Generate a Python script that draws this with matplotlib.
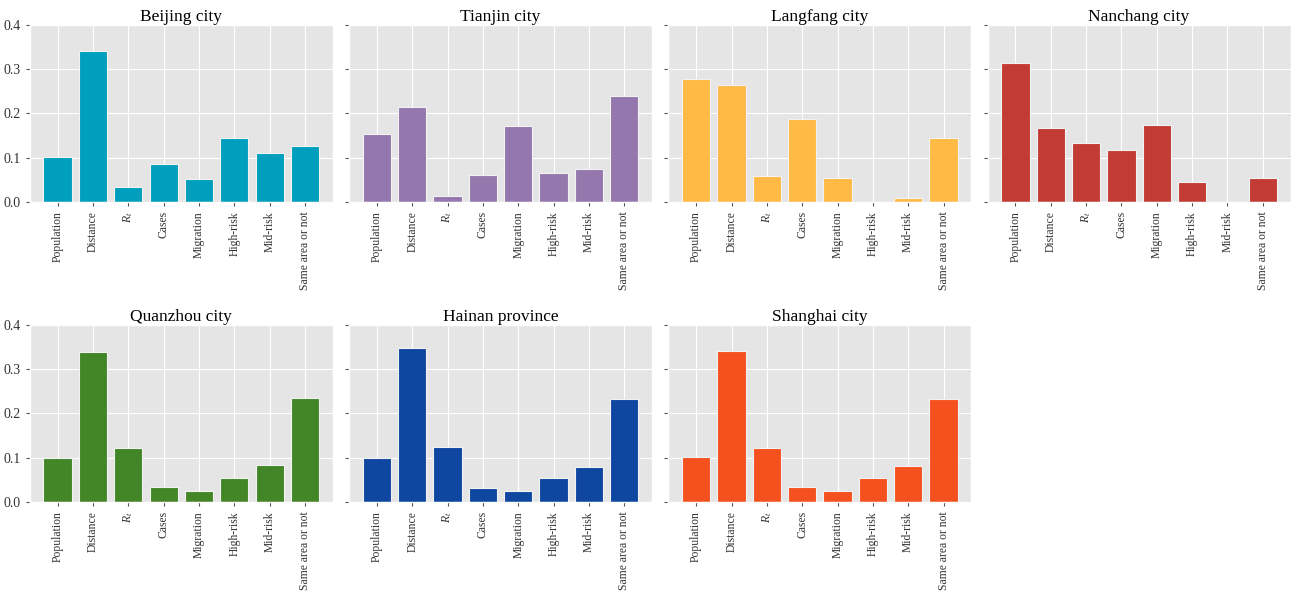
import matplotlib
matplotlib.use('Agg')
import matplotlib.pyplot as plt
import numpy as np

plt.style.use('ggplot')
plt.rcParams['font.family'] = ['Liberation Serif', 'DejaVu Serif']
plt.rcParams['mathtext.fontset'] = 'custom'
plt.rcParams['mathtext.rm'] = 'Liberation Serif'
plt.rcParams['mathtext.it'] = 'Liberation Serif:italic'

factors = ['Population', 'Distance', '$R_t$', 'Cases', 'Migration',
           'High-risk', 'Mid-risk', 'Same area or not']

regions = ['Beijing city', 'Tianjin city', 'Langfang city', 'Nanchang city',
           'Quanzhou city', 'Hainan province', 'Shanghai city']

beijing = [0.102, 0.342, 0.033, 0.086, 0.051, 0.145, 0.111, 0.127]
tianjin = [0.154, 0.214, 0.014, 0.060, 0.172, 0.066, 0.075, 0.240]
langfang = [0.278, 0.264, 0.059, 0.188, 0.055, 0.0, 0.009, 0.145]
nanchang = [0.313, 0.166, 0.133, 0.117, 0.174, 0.044, 0.0, 0.053]
quanzhou = [0.100, 0.338, 0.123, 0.033, 0.024, 0.055, 0.084, 0.234]
hainan = [0.099, 0.347, 0.124, 0.032, 0.024, 0.054, 0.079, 0.232]
shanghai = [0.101, 0.341, 0.121, 0.033, 0.025, 0.055, 0.081, 0.233]

colors = ['#009FBD', '#9478AD', '#FFBA45', '#C23C35',
          '#438628', '#0F46A0', '#F4511E']

weights = [beijing, tianjin, langfang, nanchang, quanzhou, hainan, shanghai]

fig, axes = plt.subplots(2, 4, figsize=(12.92, 5.94), dpi=100, sharey=True)
fig.subplots_adjust(left=0.023, right=0.999, top=0.958, bottom=0.155,
                    wspace=0.053, hspace=0.695)

x = np.arange(len(factors))
for i, ax in enumerate(axes.flat):
    if i >= len(regions):
        ax.axis('off')
        continue
    ax.bar(x, weights[i], width=0.8, color=colors[i], edgecolor='#f2f2f2',
           linewidth=0.8)
    ax.set_title(regions[i], fontsize=12.5, color='black', pad=3)
    ax.set_xticks(x)
    ax.set_xticklabels(factors, rotation=90, fontsize=8.4, color='#333333')
    ax.set_ylim(0, 0.4)
    ax.set_yticks([0.0, 0.1, 0.2, 0.3, 0.4])
    ax.tick_params(axis='y', labelsize=10, labelcolor='#333333')
    ax.tick_params(length=3)

plt.savefig('out.png', dpi=100)
